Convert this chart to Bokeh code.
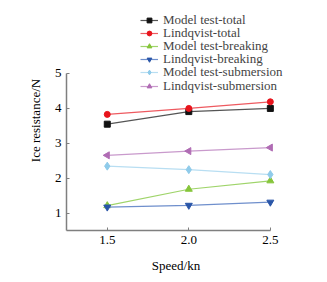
import math
from bokeh.plotting import figure
from bokeh.models import Legend, LegendItem, FixedTicker, Range1d
from bokeh.embed import file_html
from bokeh.resources import INLINE

speed = [1.5, 2.0, 2.5]
model_total = [3.54, 3.90, 3.99]
lindqvist_total = [3.82, 3.99, 4.18]
model_breaking = [1.21, 1.68, 1.92]
lindqvist_breaking = [1.17, 1.22, 1.31]
model_submersion = [2.34, 2.24, 2.10]
lindqvist_submersion = [2.65, 2.77, 2.87]

series_names = ["Model test-total", "Lindqvist-total", "Model test-breaking",
                "Lindqvist-breaking", "Model test-submersion", "Lindqvist-submersion"]
series_values = [model_total, lindqvist_total, model_breaking,
                 lindqvist_breaking, model_submersion, lindqvist_submersion]
colors = ["#111111", "#e8141c", "#86c53a", "#2a56a8", "#8fcbea", "#b06cb4"]
line_colors = ["#555555", "#ee5a60", "#9fd46a", "#6f8fcc", "#b8def2", "#c99acc"]
markers = ["square", "circle", "triangle", "inverted_triangle", "diamond", "triangle"]
angles = [0, 0, 0, 0, 0, math.pi / 2]
sizes = [6, 6, 7, 7, 8, 7]

FONT = "Liberation Serif"

p = figure(width=320, height=275, output_backend="svg", toolbar_location=None,
           x_range=Range1d(1.25, 2.593), y_range=Range1d(0.5, 6.79),
           min_border_left=66, min_border_right=35, min_border_top=10, min_border_bottom=38)
p.outline_line_color = None
p.grid.visible = False
p.background_fill_color = "white"

# legend layout (screen units, relative to the frame's bottom-left)
LEG_X = 74
LEG_Y0 = 202.5
ROW_STEP = 13.2

for i, (name, vals, c, lc, m, a, s) in enumerate(
        zip(series_names, series_values, colors, line_colors, markers, angles, sizes)):
    lr = p.line(speed, vals, line_color=lc, line_width=1.2)
    sr = p.scatter(speed, vals, marker=m, size=s, angle=a, fill_color=c, line_color=c)
    leg = Legend(items=[LegendItem(label=name, renderers=[lr, sr])],
                 location=(LEG_X, LEG_Y0 - ROW_STEP * i),
                 border_line_color=None, background_fill_alpha=0,
                 padding=0, spacing=0, margin=0,
                 label_text_font=FONT, label_text_font_size="13px",
                 label_height=12, glyph_height=12, glyph_width=18,
                 label_standoff=5)
    p.add_layout(leg, "center")

for ax in (p.xaxis[0], p.yaxis[0]):
    ax.axis_line_color = "#7f7f7f"
    ax.axis_line_width = 1.5
    ax.major_tick_line_color = "#7f7f7f"
    ax.major_tick_in = 3
    ax.major_tick_out = 0
    ax.minor_tick_line_color = None
    ax.major_label_text_font = FONT
    ax.major_label_text_font_size = "13px"
    ax.major_label_text_color = "black"
    ax.axis_label_text_font = FONT
    ax.axis_label_text_font_size = "13px"
    ax.axis_label_text_font_style = "normal"
    ax.axis_label_text_color = "black"

p.xaxis.bounds = (1.25, 2.5)
p.yaxis.bounds = (0.5, 5)
p.xaxis.ticker = FixedTicker(ticks=speed)
p.xaxis.major_label_overrides = {1.5: "1.5", 2.0: "2.0", 2.5: "2.5"}
p.yaxis.ticker = FixedTicker(ticks=[1, 2, 3, 4, 5])
p.xaxis.axis_label = "Speed/kn"
p.yaxis.axis_label = "Ice resistance/N"
p.xaxis.major_label_standoff = 5
p.yaxis.major_label_standoff = 5
p.xaxis.axis_label_standoff = 11
p.yaxis.axis_label_standoff = 9

open("out.html", "w").write(file_html(p, INLINE))
